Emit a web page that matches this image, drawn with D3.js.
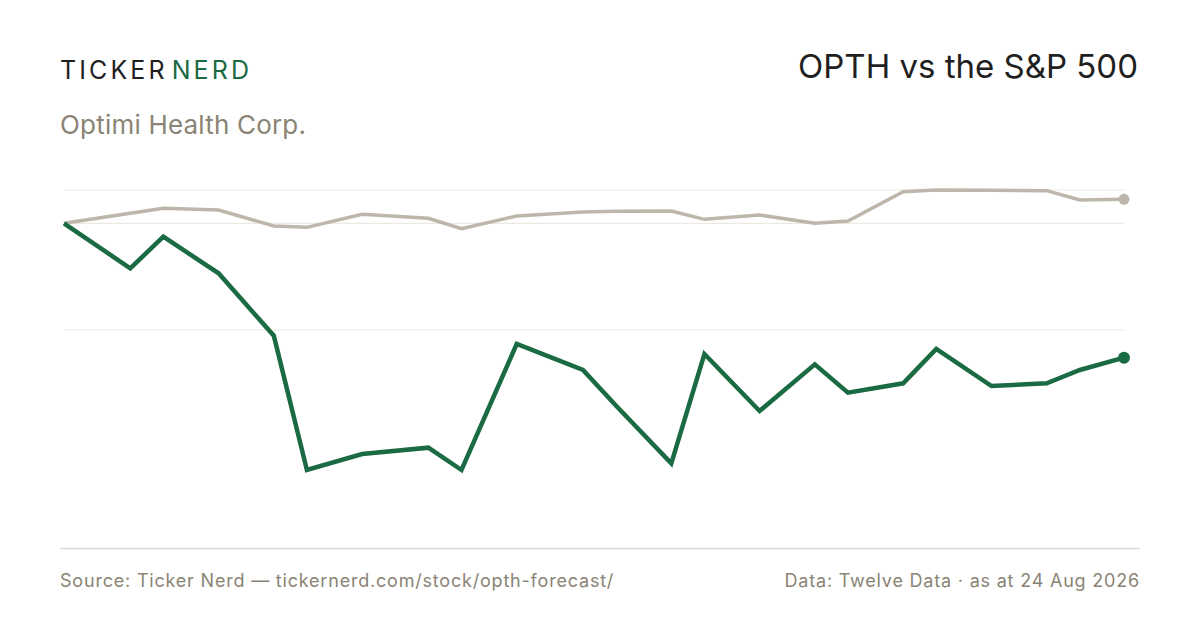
<!DOCTYPE html>
<html>
<head>
<meta charset="utf-8">
<script src="https://cdn.jsdelivr.net/npm/d3@7"></script>
<style>
    body { margin: 0; background: #fff; }
    svg { display: block; font-family: Inter, 'Noto Sans', sans-serif; }
</style>
</head>
<body>
<div id="chart"></div>
<script>
// weekly closes, % change since first point
const dates = [
    '2024-10-21', '2024-12-02', '2024-12-23', '2025-01-27', '2025-03-03', '2025-03-24',
    '2025-04-28', '2025-06-09', '2025-06-30', '2025-08-04', '2025-09-15', '2025-10-06',
    '2025-11-10', '2025-12-01', '2026-01-05', '2026-02-09', '2026-03-02', '2026-04-06',
    '2026-04-27', '2026-06-01', '2026-07-06', '2026-07-27', '2026-08-24'
];
const opthChange = [0, -13.5, -4.0, -15.0, -33.7, -74.0, -69.2, -67.3, -74.0, -36.2, -44.0, -54.7,
    -72.0, -39.2, -56.3, -42.3, -50.8, -48.0, -37.7, -48.8, -48.0, -44.0, -40.3];
const spxChange = [0, 3.0, 4.5, 4.0, -0.8, -1.2, 2.7, 1.5, -1.6, 2.2, 3.4, 3.6,
    3.7, 1.2, 2.5, 0.0, 0.7, 9.5, 10.0, 9.9, 9.8, 7.0, 7.2];

const brand = ['TICKER', 'NERD'];
const company = 'Optimi Health Corp.';
const title = 'OPTH vs the S&P 500';
const sourceNote = 'Source: Ticker Nerd \u2014 tickernerd.com/stock/opth-forecast/';
const dataNote = 'Data: Twelve Data \u00b7 as at 24 Aug 2026';

const width = 1200, height = 630;
const green = '#1a6a43', sand = '#bdb6aa', muted = '#8a8475', ink = '#1f1f1f';

const parse = d3.timeParse('%Y-%m-%d');
const days = dates.map(parse);

const svg = d3.select('#chart').append('svg')
    .attr('width', width)
    .attr('height', height);

svg.append('rect').attr('width', width).attr('height', height).attr('fill', '#fff');

// header
const logo = svg.append('text')
    .attr('x', 60).attr('y', 79)
    .attr('font-size', 25)
    .attr('letter-spacing', 3.1);
logo.append('tspan').attr('fill', ink).text(brand[0]);
logo.append('tspan').attr('fill', green).attr('dx', 4).text(brand[1]);

svg.append('text')
    .attr('x', 60).attr('y', 134)
    .attr('font-size', 26)
    .attr('letter-spacing', 0.2)
    .attr('fill', muted)
    .text(company);

svg.append('text')
    .attr('x', 1138).attr('y', 78)
    .attr('font-size', 33)
    .attr('text-anchor', 'end')
    .attr('fill', ink)
    .text(title);

// scales
const all = opthChange.concat(spxChange);
const yMin = d3.min(all), yMax = d3.max(all);
const x = d3.scaleTime().domain(d3.extent(days)).range([64, 1124]);
const y = d3.scaleLinear().domain([yMin, yMax]).range([470, 190]);

const gridValues = [yMax, 0, (yMin + yMax) / 2];
svg.append('g').selectAll('line')
    .data(gridValues)
    .enter()
    .append('line')
    .attr('x1', 64).attr('x2', 1124)
    .attr('y1', d => y(d)).attr('y2', d => y(d))
    .attr('stroke', '#ece9e3')
    .attr('stroke-width', 1.2);

const line = d3.line()
    .x((d, i) => x(days[i]))
    .y(d => y(d));

function drawSeries(values, color, w, r) {
    svg.append('path')
        .datum(values)
        .attr('fill', 'none')
        .attr('stroke', color)
        .attr('stroke-width', w)
        .attr('stroke-linejoin', 'miter')
        .attr('d', line);
    const last = values.length - 1;
    svg.append('circle')
        .attr('cx', x(days[last]))
        .attr('cy', y(values[last]))
        .attr('r', r)
        .attr('fill', color);
}
drawSeries(spxChange, sand, 3.5, 5.5);
drawSeries(opthChange, green, 4.5, 6);

// footer
svg.append('line')
    .attr('x1', 60).attr('x2', 1140)
    .attr('y1', 548.5).attr('y2', 548.5)
    .attr('stroke', '#dcd8cd')
    .attr('stroke-width', 1.5);

svg.append('text')
    .attr('x', 60).attr('y', 587)
    .attr('font-size', 18)
    .attr('letter-spacing', 0.8)
    .attr('fill', muted)
    .text(sourceNote);

svg.append('text')
    .attr('x', 1140).attr('y', 587)
    .attr('font-size', 18)
    .attr('letter-spacing', 0.8)
    .attr('text-anchor', 'end')
    .attr('fill', muted)
    .text(dataNote);
</script>
</body>
</html>
